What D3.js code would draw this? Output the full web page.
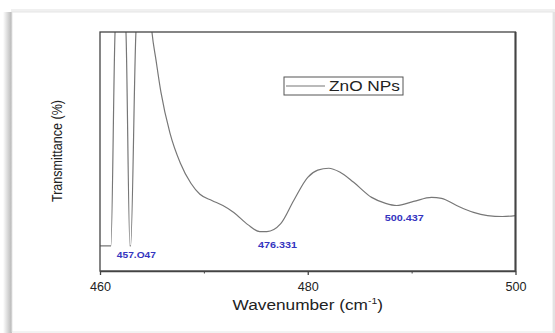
<!DOCTYPE html>
<html>
<head>
<meta charset="utf-8">
<script src="https://cdn.jsdelivr.net/npm/d3@7"></script>
<style>
  body { margin: 0; background: #fff; }
  svg { display: block; }
</style>
</head>
<body>
<script>
// wavenumber (cm-1) and transmittance (arbitrary %)
var wavenumber = [460, 461.05, 461.45, 461.6, 462.35, 462.5, 462.88, 462.95, 463.46, 463.6,
                  464.8, 465.0, 465.4, 465.87, 466.73, 467.74, 468.75, 469.62, 470.77, 471.83,
                  472.88, 474.23, 475.38, 476.06, 477.4, 478.65, 480.0, 480.96, 482.02, 483.08,
                  484.42, 486.15, 487.5, 488.56, 490.19, 491.92, 492.88, 494.33, 495.96, 497.31,
                  498.75, 500];
var transmittance = [10.5, 10.5, 100, 110, 110, 100, 10.5, 10.5, 100, 110,
                     110, 100, 88, 74.7, 57.8, 45.1, 36.7, 32.1, 29.5, 27.4,
                     24.5, 19.4, 16.5, 16.5, 19.8, 29.5, 39.2, 42.2, 43.0, 41.4,
                     37.1, 30.8, 28.3, 27.4, 29.1, 30.8, 30.4, 27.4, 24.5, 23.2,
                     22.8, 23.2];
var xTicks = [460, 480, 500];
var xMinor = [470, 490];
// peak annotations: label, wavenumber position, transmittance position
var peakLabels = ["457.O47", "476.331", "500.437"];
var peakX = [463.5, 477.1, 489.3];
var peakY = [5.5, 9.7, 21];

drawChart();

function drawChart() {
    var width = 555, height = 333;
    var m = {left: 100, right: 515.5, top: 32, bottom: 271};
    var font = "Liberation Sans, Arial, sans-serif";

    var svg = d3.select("body").append("svg")
        .attr("width", width)
        .attr("height", height);

    // panel with shadow
    var defs = svg.append("defs");
    var grad = defs.append("linearGradient").attr("id", "lshadow");
    grad.append("stop").attr("offset", "0%").attr("stop-color", "#fff");
    grad.append("stop").attr("offset", "100%").attr("stop-color", "#b5b5b5");
    svg.append("rect").attr("x", 3).attr("y", 12).attr("width", 9).attr("height", 321)
        .attr("fill", "url(#lshadow)");
    svg.append("rect").attr("x", 11).attr("y", 9).attr("width", 544).attr("height", 3)
        .attr("fill", "#f0f0f0");
    svg.append("rect").attr("x", 12).attr("y", 12).attr("width", 541).attr("height", 320)
        .attr("fill", "#fff")
        .attr("stroke", "#e6e6e6")
        .attr("stroke-width", 1);
    svg.append("rect").attr("x", 553).attr("y", 12).attr("width", 2).attr("height", 321)
        .attr("fill", "#e2e2e2");

    var x = d3.scaleLinear().domain([460, 500]).range([m.left, m.right]);
    var y = d3.scaleLinear().domain([0, 100]).range([m.bottom, m.top]);

    defs.append("clipPath").attr("id", "plotclip")
      .append("rect")
        .attr("x", m.left).attr("y", m.top)
        .attr("width", m.right - m.left).attr("height", m.bottom - m.top);

    var data = wavenumber.map(function(d, i) { return [d, transmittance[i]]; });

    var line = d3.line()
        .x(function(d) { return x(d[0]); })
        .y(function(d) { return y(d[1]); })
        .curve(d3.curveMonotoneX);

    svg.append("path")
        .datum(data)
        .attr("clip-path", "url(#plotclip)")
        .attr("d", line)
        .attr("fill", "none")
        .attr("stroke", "#777")
        .attr("stroke-width", 1.2);

    // frame
    svg.append("rect")
        .attr("x", m.left).attr("y", m.top)
        .attr("width", m.right - m.left).attr("height", m.bottom - m.top)
        .attr("fill", "none")
        .attr("stroke", "#444")
        .attr("stroke-width", 1.3);
    svg.append("line")
        .attr("x1", m.right).attr("x2", m.right).attr("y1", m.top).attr("y2", m.bottom)
        .attr("stroke", "#444").attr("stroke-width", 2);

    // x axis
    var xAxis = d3.axisBottom(x).tickValues(xTicks).tickSize(4).tickSizeOuter(0).tickFormat(d3.format("d"));
    var gx = svg.append("g").attr("transform", "translate(0," + m.bottom + ")").call(xAxis);
    gx.select(".domain").attr("stroke", "#444").attr("stroke-width", 1.3);
    gx.selectAll(".tick line").attr("stroke", "#444").attr("stroke-width", 1.3);
    gx.selectAll(".tick text")
        .attr("dy", "1.05em")
        .attr("font-family", font)
        .attr("font-size", 12)
        .attr("textLength", 21)
        .attr("lengthAdjust", "spacingAndGlyphs")
        .attr("fill", "#222");
    svg.append("g").attr("transform", "translate(0," + m.bottom + ")")
        .call(d3.axisBottom(x).tickValues(xMinor).tickSize(2.5).tickFormat(""))
        .call(function(g) {
            g.select(".domain").remove();
            g.selectAll(".tick line").attr("stroke", "#444");
        });

    // axis titles
    var xt = svg.append("text")
        .attr("x", x(480))
        .attr("y", 310)
        .attr("text-anchor", "middle")
        .attr("font-family", font)
        .attr("font-size", 15)
        .attr("fill", "#222")
        .attr("transform", "translate(" + x(480) + ",0) scale(1.15,1) translate(" + (-x(480)) + ",0)");
    xt.append("tspan").text("Wavenumber (cm");
    xt.append("tspan").attr("font-size", 9).attr("dy", -6).text("-1");
    xt.append("tspan").attr("dy", 6).text(")");

    svg.append("text")
        .attr("transform", "translate(62,151) rotate(-90)")
        .attr("text-anchor", "middle")
        .attr("font-family", font)
        .attr("font-size", 14)
        .attr("textLength", 102)
        .attr("lengthAdjust", "spacingAndGlyphs")
        .attr("fill", "#222")
        .text("Transmittance (%)");

    // peak labels
    svg.selectAll(".peak")
        .data(peakLabels)
        .enter()
        .append("text")
        .attr("class", "peak")
        .attr("x", function(d, i) { return x(peakX[i]); })
        .attr("y", function(d, i) { return y(peakY[i]); })
        .attr("text-anchor", "middle")
        .attr("font-family", font)
        .attr("font-weight", "bold")
        .attr("font-size", 9)
        .attr("textLength", 39)
        .attr("lengthAdjust", "spacingAndGlyphs")
        .attr("fill", "#3535c0")
        .text(function(d) { return d; });

    // legend
    var lg = svg.append("g").attr("transform", "translate(284,77)");
    lg.append("rect").attr("width", 119).attr("height", 18)
        .attr("fill", "#fff").attr("stroke", "#555").attr("stroke-width", 1);
    lg.append("line").attr("x1", 2).attr("x2", 41).attr("y1", 9).attr("y2", 9)
        .attr("stroke", "#777").attr("stroke-width", 1.2);
    lg.append("text").attr("x", 45).attr("y", 14)
        .attr("font-family", font)
        .attr("font-size", 14)
        .attr("textLength", 71)
        .attr("lengthAdjust", "spacingAndGlyphs")
        .attr("fill", "#222")
        .text("ZnO NPs");
}
</script>
</body>
</html>
